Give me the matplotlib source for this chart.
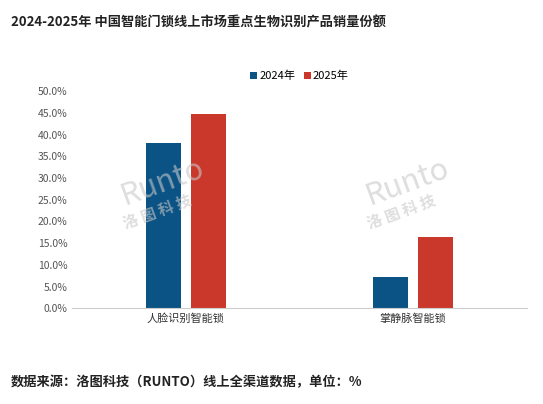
import numpy as np
import matplotlib.pyplot as plt

plt.rcParams['font.family'] = ['Noto Sans CJK SC', 'DejaVu Sans']

categories = ['人脸识别智能锁', '掌静脉智能锁']
series = ['2024年', '2025年']
v2024 = [38.2, 7.1]
v2025 = [44.7, 16.4]
colors = ['#0B5385', '#C9382A']

fig = plt.figure(figsize=(5.43, 4.04), dpi=100)
ax = fig.add_axes([0.133, 0.237, 0.837, 0.537])

x = np.arange(len(categories))
w = 0.155
ax.bar(x - 0.1, v2024, w, color=colors[0], label=series[0])
ax.bar(x + 0.1, v2025, w, color=colors[1], label=series[1])

ax.set_xlim(-0.5, 1.5)
ax.set_ylim(0, 50)
ax.set_yticks(np.arange(0, 50.1, 5))
ax.set_yticklabels([f'{t:.1f}%' for t in np.arange(0, 50.1, 5)], fontsize=7.5, color='#555555')
ax.set_xticks(x)
ax.set_xticklabels(categories, fontsize=8, color='#333333')
ax.tick_params(length=0)
for s in ['top', 'right', 'left']:
    ax.spines[s].set_visible(False)
ax.spines['bottom'].set_color('#cccccc')

# watermark
for xc in [0.3, 0.75]:
    fig.text(xc, 0.55, 'Runto', fontsize=22, color='#c8c8c8', alpha=0.6, rotation=20,
             ha='center', va='center', style='italic', zorder=5)
    fig.text(xc - 0.01, 0.475, '洛 图 科 技', fontsize=11, color='#c8c8c8', alpha=0.6, rotation=20,
             ha='center', va='center', fontweight='bold', zorder=5)

ax.legend(loc='upper center', bbox_to_anchor=(0.5, 1.14), ncol=2, frameon=False,
          fontsize=8, handlelength=0.6, handleheight=0.6, handletextpad=0.2, columnspacing=0.8)

fig.text(0.02, 0.935, '2024-2025年 中国智能门锁线上市场重点生物识别产品销量份额',
         fontsize=9.5, fontweight='bold', color='#222222')
fig.text(0.02, 0.045, '数据来源：洛图科技（RUNTO）线上全渠道数据，单位：%',
         fontsize=9.5, fontweight='bold', color='#222222')

fig.savefig('out.png', dpi=100)
